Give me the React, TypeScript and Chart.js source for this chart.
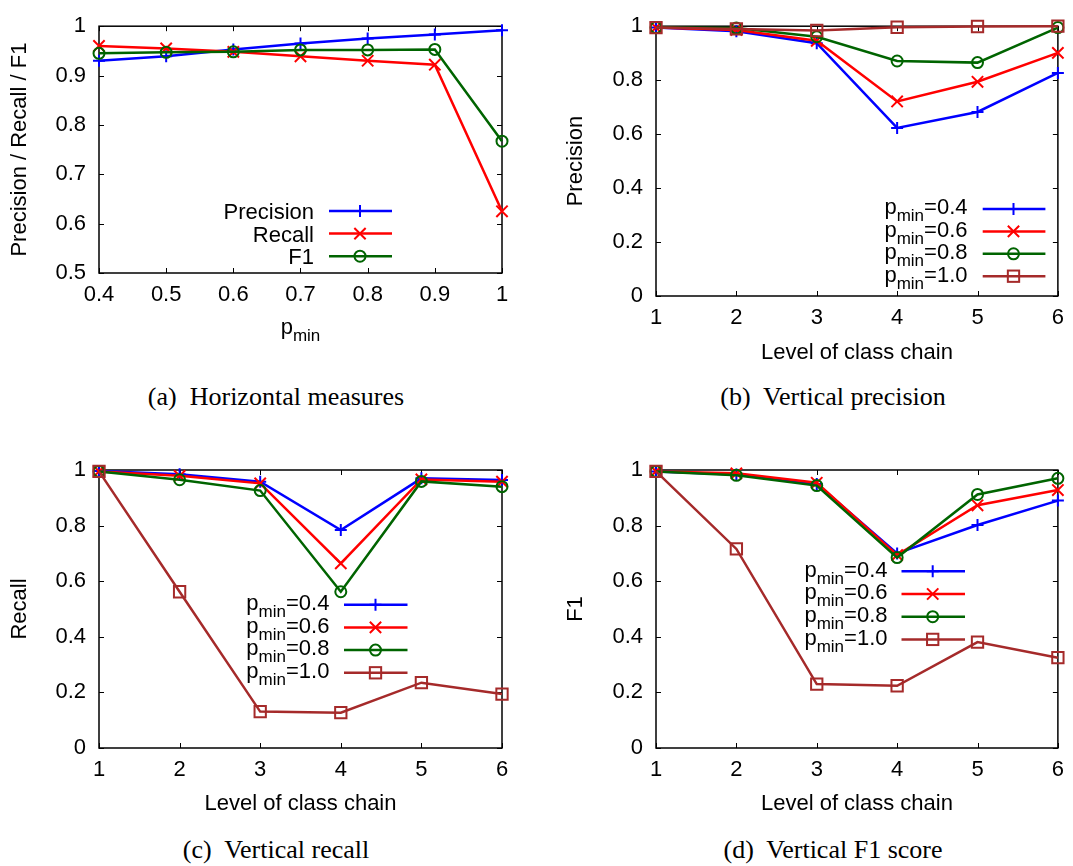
import React, { useEffect, useRef } from 'react';
import { Chart, registerables } from 'chart.js';

Chart.register(...registerables);

const SANS = '"Liberation Sans", Arial, Helvetica, sans-serif';
const SERIF = '"Liberation Serif", "Times New Roman", Times, serif';

// ---------- Data: (a) Horizontal measures ----------
const pminValues = [0.4, 0.5, 0.6, 0.7, 0.8, 0.9, 1.0];
const horizPrecision = [0.930, 0.939, 0.953, 0.965, 0.975, 0.983, 0.992];
const horizRecall = [0.960, 0.955, 0.948, 0.939, 0.930, 0.922, 0.625];
const horizF1 = [0.945, 0.947, 0.948, 0.952, 0.952, 0.953, 0.767];
const xTicksA = [0.4, 0.5, 0.6, 0.7, 0.8, 0.9, 1];
const yTicksA = [0.5, 0.6, 0.7, 0.8, 0.9, 1];
const seriesLabelsA = ['Precision', 'Recall', 'F1'];

// ---------- Data: vertical measures ----------
const levels = [1, 2, 3, 4, 5, 6];
const xTicksV = [1, 2, 3, 4, 5, 6];
const yTicksV = [0, 0.2, 0.4, 0.6, 0.8, 1];
const pminLabels = ['0.4', '0.6', '0.8', '1.0'];

const precP04 = [0.995, 0.981, 0.937, 0.623, 0.682, 0.827];
const precP06 = [0.995, 0.986, 0.946, 0.721, 0.794, 0.901];
const precP08 = [0.995, 0.993, 0.961, 0.871, 0.865, 0.995];
const precP10 = [0.995, 0.990, 0.984, 0.996, 0.999, 1.000];

const recP04 = [0.996, 0.985, 0.958, 0.784, 0.970, 0.964];
const recP06 = [0.995, 0.979, 0.952, 0.664, 0.966, 0.958];
const recP08 = [0.995, 0.965, 0.926, 0.562, 0.959, 0.940];
const recP10 = [0.995, 0.562, 0.131, 0.127, 0.235, 0.194];

const f1P04 = [0.995, 0.984, 0.950, 0.700, 0.802, 0.890];
const f1P06 = [0.995, 0.988, 0.954, 0.694, 0.873, 0.928];
const f1P08 = [0.995, 0.981, 0.944, 0.685, 0.912, 0.970];
const f1P10 = [0.995, 0.716, 0.230, 0.224, 0.381, 0.325];

// ---------- Styles ----------
type Style = { color: string; pointStyle: string; radius: number };
const STYLES: Style[] = [
  { color: '#0000ff', pointStyle: 'cross', radius: 6 },
  { color: '#ff0000', pointStyle: 'crossRot', radius: 8 },
  { color: '#006400', pointStyle: 'circle', radius: 5.5 },
  { color: '#a52a2a', pointStyle: 'rect', radius: 8 },
];
const LINE_W = 2.5;
const MAIN_SIZE = 22;
const SUB_SIZE = 17;
const SUB_DY = 7;

type Part = { t: string; sub?: boolean };

const fmt = (v: number) => String(+Number(v).toFixed(2));

function drawParts(ctx: CanvasRenderingContext2D, parts: Part[], x: number, baseline: number, align: 'right' | 'center') {
  const widths = parts.map((p) => {
    ctx.font = `${p.sub ? SUB_SIZE : MAIN_SIZE}px ${SANS}`;
    return ctx.measureText(p.t).width;
  });
  const total = widths.reduce((a, b) => a + b, 0);
  let cx = align === 'right' ? x - total : x - total / 2;
  ctx.textAlign = 'left';
  ctx.textBaseline = 'alphabetic';
  ctx.fillStyle = '#000';
  parts.forEach((p, i) => {
    ctx.font = `${p.sub ? SUB_SIZE : MAIN_SIZE}px ${SANS}`;
    ctx.fillText(p.t, cx, baseline + (p.sub ? SUB_DY : 0));
    cx += widths[i];
  });
}

function drawMarker(ctx: CanvasRenderingContext2D, s: Style, x: number, y: number) {
  ctx.save();
  ctx.strokeStyle = s.color;
  ctx.lineWidth = 2;
  ctx.beginPath();
  const r = s.radius;
  if (s.pointStyle === 'cross') {
    ctx.moveTo(x - r, y); ctx.lineTo(x + r, y);
    ctx.moveTo(x, y - r); ctx.lineTo(x, y + r);
    ctx.stroke();
  } else if (s.pointStyle === 'crossRot') {
    const d = r * Math.SQRT1_2;
    ctx.moveTo(x - d, y - d); ctx.lineTo(x + d, y + d);
    ctx.moveTo(x - d, y + d); ctx.lineTo(x + d, y - d);
    ctx.stroke();
  } else if (s.pointStyle === 'circle') {
    ctx.arc(x, y, r, 0, Math.PI * 2);
    ctx.stroke();
  } else {
    const d = r * Math.SQRT1_2;
    ctx.strokeRect(x - d, y - d, 2 * d, 2 * d);
  }
  ctx.restore();
}

type Series = { values: number[]; style: Style; legend: Part[] };
type LegendPos = { textRight: number; x1: number; x2: number; xm: number; y0: number; step: number; baseDy: number };
type PanelCfg = {
  width: number; height: number; left: number; top: number;
  cl: number; cr: number; ct: number; cb: number;
  xMin: number; xMax: number; xTicks: number[];
  yMin: number; yMax: number; yTicks: number[];
  xValues: number[];
  series: Series[];
  yTitle: string; yTitlePad: number;
  xTitle?: string; xTitlePad?: number;
  xTitleParts?: Part[]; xTitleX?: number; xTitleBase?: number;
  legend: LegendPos;
};

function makeDecor(cfg: PanelCfg) {
  return {
    id: 'gnuDecor',
    beforeDatasetsDraw(chart: any) {
      const { ctx, chartArea } = chart;
      const { left, right, top, bottom } = chartArea;
      const xs = chart.scales.x;
      const ys = chart.scales.y;
      ctx.save();
      ctx.strokeStyle = '#000';
      ctx.lineWidth = 1;
      const tl = 5;
      ctx.beginPath();
      xs.ticks.forEach((t: any) => {
        const px = Math.round(xs.getPixelForValue(t.value)) + 0.5;
        ctx.moveTo(px, bottom); ctx.lineTo(px, bottom - tl);
        ctx.moveTo(px, top); ctx.lineTo(px, top + tl);
      });
      ys.ticks.forEach((t: any) => {
        const py = Math.round(ys.getPixelForValue(t.value)) + 0.5;
        ctx.moveTo(left, py); ctx.lineTo(left + tl, py);
        ctx.moveTo(right, py); ctx.lineTo(right - tl, py);
      });
      ctx.stroke();
      ctx.lineWidth = 1.5;
      ctx.strokeRect(left, top, right - left, bottom - top);
      ctx.restore();
    },
    afterDatasetsDraw(chart: any) {
      const { ctx } = chart;
      ctx.save();
      const L = cfg.legend;
      cfg.series.forEach((s, i) => {
        const y = L.y0 + i * L.step;
        drawParts(ctx, s.legend, L.textRight, y + L.baseDy, 'right');
        ctx.strokeStyle = s.style.color;
        ctx.lineWidth = LINE_W;
        ctx.beginPath();
        ctx.moveTo(L.x1, y); ctx.lineTo(L.x2, y);
        ctx.stroke();
        drawMarker(ctx, s.style, L.xm, y);
      });
      if (cfg.xTitleParts) {
        drawParts(ctx, cfg.xTitleParts, cfg.xTitleX!, cfg.xTitleBase!, 'center');
      }
      ctx.restore();
    },
  };
}

function buildConfig(cfg: PanelCfg): any {
  const n = cfg.series.length;
  const tickFont = { family: SANS, size: MAIN_SIZE };
  return {
    type: 'line',
    data: {
      datasets: cfg.series.map((s, i) => ({
        data: cfg.xValues.map((x, k) => ({ x, y: s.values[k] })),
        borderColor: s.style.color,
        borderWidth: LINE_W,
        backgroundColor: 'rgba(0,0,0,0)',
        pointStyle: s.style.pointStyle,
        pointRadius: s.style.radius,
        pointBorderWidth: 2,
        pointBorderColor: s.style.color,
        pointBackgroundColor: 'rgba(0,0,0,0)',
        tension: 0,
        fill: false,
        clip: false,
        order: n - i,
      })),
    },
    options: {
      responsive: false,
      animation: false,
      events: [],
      layout: { padding: { left: 0, top: cfg.ct, right: cfg.width - cfg.cr, bottom: 0 } },
      plugins: { legend: { display: false }, tooltip: { enabled: false }, title: { display: false } },
      scales: {
        x: {
          type: 'linear',
          position: 'bottom',
          min: cfg.xMin,
          max: cfg.xMax,
          grid: { display: false, drawTicks: false },
          border: { display: false },
          afterBuildTicks: (sc: any) => { sc.ticks = cfg.xTicks.map((v) => ({ value: v })); },
          afterFit: (sc: any) => { sc.height = cfg.height - cfg.cb; },
          ticks: {
            padding: 9, font: tickFont, color: '#000', maxRotation: 0, minRotation: 0,
            autoSkip: false, callback: (v: number) => fmt(v),
          },
          title: cfg.xTitle
            ? { display: true, text: cfg.xTitle, color: '#000', font: tickFont, padding: { top: 0, bottom: cfg.xTitlePad } }
            : { display: false },
        },
        y: {
          type: 'linear',
          position: 'left',
          min: cfg.yMin,
          max: cfg.yMax,
          grid: { display: false, drawTicks: false },
          border: { display: false },
          afterBuildTicks: (sc: any) => { sc.ticks = cfg.yTicks.map((v) => ({ value: v })); },
          afterFit: (sc: any) => { sc.width = cfg.cl; },
          ticks: { padding: 13, font: tickFont, color: '#000', autoSkip: false, callback: (v: number) => fmt(v) },
          title: { display: true, text: cfg.yTitle, color: '#000', font: tickFont, padding: { top: cfg.yTitlePad, bottom: 0 } },
        },
      },
    },
    plugins: [makeDecor(cfg)],
  };
}

const pminParts = (lab: string): Part[] => [{ t: 'p' }, { t: 'min', sub: true }, { t: '=' + lab }];

const panelA: PanelCfg = {
  width: 540, height: 370, left: 0, top: 0,
  cl: 99, cr: 502, ct: 16, cb: 273,
  xMin: 0.4, xMax: 1, xTicks: xTicksA,
  yMin: 0.5, yMax: 1, yTicks: yTicksA,
  xValues: pminValues,
  series: [horizPrecision, horizRecall, horizF1].map((v, i) => ({ values: v, style: STYLES[i], legend: [{ t: seriesLabelsA[i] }] })),
  yTitle: 'Precision / Recall / F1', yTitlePad: 7,
  xTitleParts: [{ t: 'p' }, { t: 'min', sub: true }], xTitleX: 300.5, xTitleBase: 334,
  legend: { textRight: 314, x1: 329, x2: 392, xm: 360, y0: 211, step: 22.6, baseDy: 8 },
};

const verticalSeries = (arrs: number[][]): Series[] =>
  arrs.map((v, i) => ({ values: v, style: STYLES[i], legend: pminParts(pminLabels[i]) }));

const panelB: PanelCfg = {
  width: 533, height: 370, left: 540, top: 0,
  cl: 116, cr: 519, ct: 15, cb: 296,
  xMin: 1, xMax: 6, xTicks: xTicksV,
  yMin: 0, yMax: 1, yTicks: yTicksV,
  xValues: levels,
  series: verticalSeries([precP04, precP06, precP08, precP10]),
  yTitle: 'Precision', yTitlePad: 23,
  xTitle: 'Level of class chain', xTitlePad: 4,
  legend: { textRight: 427.5, x1: 442.7, x2: 505.4, xm: 473.5, y0: 209, step: 22.4, baseDy: 5.3 },
};

const panelC: PanelCfg = {
  width: 540, height: 380, left: 0, top: 440,
  cl: 99, cr: 502, ct: 30, cb: 308,
  xMin: 1, xMax: 6, xTicks: xTicksV,
  yMin: 0, yMax: 1, yTicks: yTicksV,
  xValues: levels,
  series: verticalSeries([recP04, recP06, recP08, recP10]),
  yTitle: 'Recall', yTitlePad: 7,
  xTitle: 'Level of class chain', xTitlePad: 3,
  legend: { textRight: 329.4, x1: 344, x2: 407.5, xm: 375.5, y0: 164.7, step: 22.7, baseDy: 5.3 },
};

const panelD: PanelCfg = {
  width: 533, height: 380, left: 540, top: 440,
  cl: 116, cr: 519, ct: 30, cb: 308,
  xMin: 1, xMax: 6, xTicks: xTicksV,
  yMin: 0, yMax: 1, yTicks: yTicksV,
  xValues: levels,
  series: verticalSeries([f1P04, f1P06, f1P08, f1P10]),
  yTitle: 'F1', yTitlePad: 23,
  xTitle: 'Level of class chain', xTitlePad: 3,
  legend: { textRight: 347.5, x1: 361.5, x2: 425, xm: 392.7, y0: 131.3, step: 22.7, baseDy: 5.3 },
};

function Panel({ cfg }: { cfg: PanelCfg }) {
  const ref = useRef<HTMLCanvasElement | null>(null);
  useEffect(() => {
    if (!ref.current) return;
    const chart = new Chart(ref.current, buildConfig(cfg));
    return () => chart.destroy();
  }, [cfg]);
  return (
    <canvas
      ref={ref}
      width={cfg.width}
      height={cfg.height}
      style={{ position: 'absolute', left: cfg.left, top: cfg.top, width: cfg.width, height: cfg.height }}
    />
  );
}

const CAP_SIZE = 26;
function Caption({ text, cx, baseline }: { text: string; cx: number; baseline: number }) {
  return (
    <div
      style={{
        position: 'absolute', left: cx - 200, top: baseline - 21.8, width: 400,
        textAlign: 'center', fontFamily: SERIF, fontSize: CAP_SIZE, lineHeight: `${CAP_SIZE}px`,
        whiteSpace: 'pre', color: '#000',
      }}
    >
      {text}
    </div>
  );
}

export default function App() {
  return (
    <div style={{ position: 'absolute', left: 0, top: 0, width: 1073, height: 866, background: '#fff', overflow: 'hidden' }}>
      <Panel cfg={panelA} />
      <Panel cfg={panelB} />
      <Panel cfg={panelC} />
      <Panel cfg={panelD} />
      <Caption text="(a)  Horizontal measures" cx={276} baseline={406} />
      <Caption text="(b)  Vertical precision" cx={833} baseline={406} />
      <Caption text="(c)  Vertical recall" cx={276} baseline={859} />
      <Caption text="(d)  Vertical F1 score" cx={833} baseline={859} />
    </div>
  );
}
